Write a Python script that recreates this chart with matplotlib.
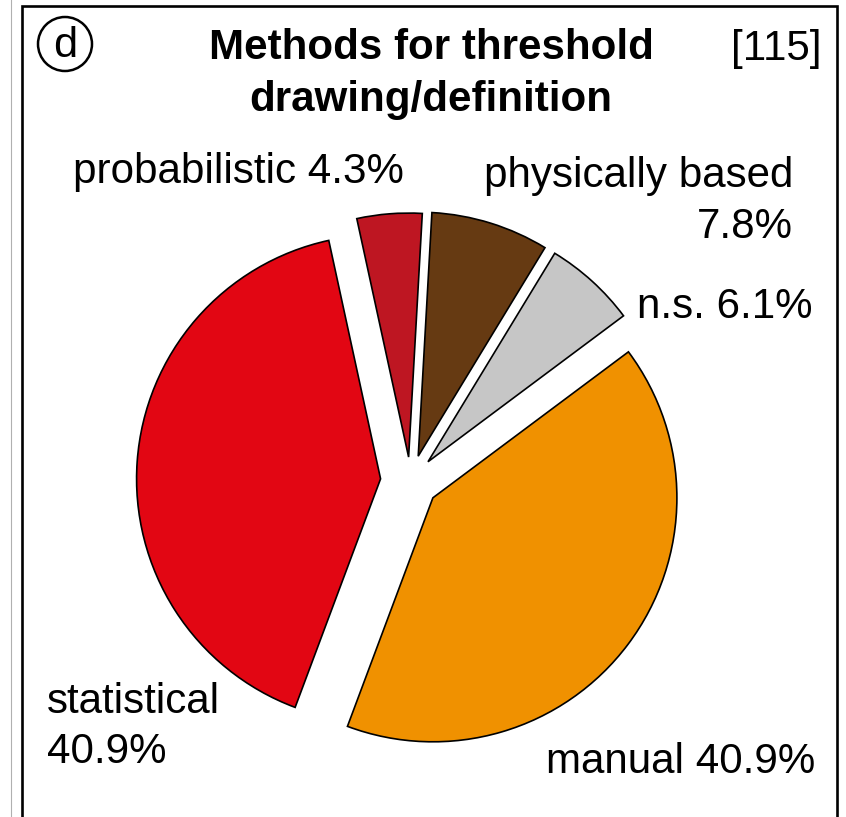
import matplotlib
matplotlib.use("Agg")
import matplotlib.pyplot as plt
from matplotlib.patches import Circle, Rectangle

plt.rcParams['font.family'] = ['Liberation Sans', 'DejaVu Sans']

# shares of the threshold methods, in pie order (counter-clockwise from manual)
methods = ["manual", "n.s.", "physically based", "probabilistic", "statistical"]
shares = [40.9, 6.1, 7.8, 4.3, 40.9]
colors = ["#F09100", "#C6C6C6", "#663A12", "#BE1622", "#E20613"]
offsets = [28, 26, 26, 24, 30]

title = "Methods for threshold\ndrawing/definition"
panel = "d"
n_refs = "[115]"

W, H = 846, 817
fs = 30.3


def up(y):
    # work in pixel rows counted from the top
    return H - y


fig = plt.figure(figsize=(W / 100, H / 100), dpi=100)
ax = fig.add_axes([0, 0, 1, 1])

wedges, _ = ax.pie(shares, colors=colors, explode=offsets, startangle=-110.5,
                   counterclock=True, radius=244, center=(410.5, up(481)),
                   wedgeprops=dict(edgecolor="black", linewidth=1.2))
ax.set_xlim(0, W)
ax.set_ylim(0, H)
ax.set_aspect("auto")
ax.axis("off")

# panel frame
ax.add_patch(Rectangle((22, -10), 815, up(6) + 10, fill=False,
                       edgecolor="black", linewidth=1.9))
ax.plot([11, 11], [0, H], color="#B0B0B0", linewidth=0.8)

# header
for i, line in enumerate(title.split("\n")):
    ax.text(431, up(59 + 52 * i), line, ha="center", va="baseline",
            fontsize=fs, fontweight="bold")
ax.text(822, up(60), n_refs, ha="right", va="baseline", fontsize=fs)
ax.add_patch(Circle((65, up(44)), 27, fill=False, edgecolor="black", linewidth=1.8))
ax.text(65, up(46), panel, ha="center", va="center", fontsize=fs + 1)

lab = {m: f"{v:.1f}%" for m, v in zip(methods, shares)}

ax.text(73, up(183), f"probabilistic {lab['probabilistic']}", ha="left",
        va="baseline", fontsize=fs)
ax.text(793, up(187), "physically based", ha="right", va="baseline", fontsize=fs)
ax.text(793, up(238), lab["physically based"], ha="right", va="baseline", fontsize=fs)
ax.text(637, up(318), f"n.s. {lab['n.s.']}", ha="left", va="baseline", fontsize=fs)
ax.text(47, up(713), "statistical", ha="left", va="baseline", fontsize=fs)
ax.text(47, up(763), lab["statistical"], ha="left", va="baseline", fontsize=fs)
ax.text(815, up(773), f"manual {lab['manual']}", ha="right", va="baseline",
        fontsize=fs)

fig.savefig("out.png", dpi=100)
